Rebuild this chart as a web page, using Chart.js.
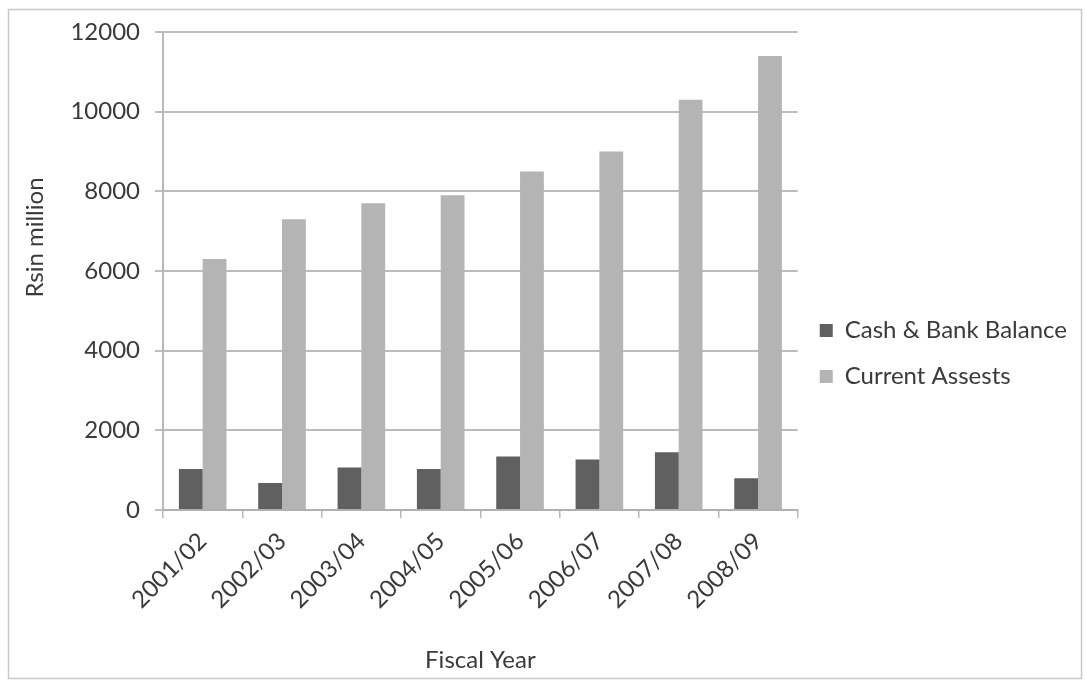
<!DOCTYPE html>
<html>
<head>
<meta charset="utf-8">
<script src="https://cdn.jsdelivr.net/npm/chart.js@4"></script>
<style>
  html, body { margin: 0; padding: 0; background: #ffffff; }
  #wrap { position: relative; width: 1087px; height: 683px; }
</style>
</head>
<body>
<div id="wrap"><canvas id="chart" width="1087" height="683"></canvas></div>
<script>
// Fiscal years on the category axis
const years = ['2001/02', '2002/03', '2003/04', '2004/05', '2005/06', '2006/07', '2007/08', '2008/09'];
// Rs in million
const cashBankBalance = [1030, 680, 1070, 1030, 1340, 1270, 1450, 800];
const currentAssets = [6300, 7300, 7700, 7900, 8500, 9000, 10300, 11400];
// Value axis ticks
const yTicks = [0, 2000, 4000, 6000, 8000, 10000, 12000];
const yTitle = 'Rsin million';

const FONT = 'Lato, "Open Sans", sans-serif';
const TEXT = '#3a3a3a';

// Thin frame round the whole chart
const framePlugin = {
  id: 'frame',
  beforeDraw(chart) {
    const ctx = chart.ctx;
    ctx.save();
    ctx.fillStyle = '#ffffff';
    ctx.fillRect(0, 0, chart.width, chart.height);
    ctx.strokeStyle = '#c8c8c8';
    ctx.lineWidth = 1.5;
    ctx.strokeRect(8.5, 9.5, chart.width - 14, chart.height - 14);
    ctx.restore();
  }
};

// Value axis title, set a little above the middle of the axis
const yTitlePlugin = {
  id: 'yTitle',
  afterDraw(chart) {
    const ctx = chart.ctx;
    const area = chart.chartArea;
    ctx.save();
    ctx.translate(35, area.top + (area.bottom - area.top) * 0.43);
    ctx.rotate(-Math.PI / 2);
    ctx.font = '24px ' + FONT;
    ctx.fillStyle = TEXT;
    ctx.textAlign = 'center';
    ctx.textBaseline = 'middle';
    ctx.fillText(yTitle, 0, 0);
    ctx.restore();
  }
};

new Chart(document.getElementById('chart'), {
  type: 'bar',
  data: {
    labels: years,
    datasets: [
      {
        label: 'Cash & Bank Balance',
        data: cashBankBalance,
        backgroundColor: '#606060',
        categoryPercentage: 0.6,
        barPercentage: 1.0
      },
      {
        label: 'Current Assests',
        data: currentAssets,
        backgroundColor: '#b4b4b4',
        categoryPercentage: 0.6,
        barPercentage: 1.0
      }
    ]
  },
  options: {
    responsive: false,
    animation: false,
    layout: { padding: { top: 32, left: 8, right: 10, bottom: 8 } },
    plugins: {
      tooltip: { enabled: false },
      legend: {
        position: 'right',
        align: 'center',
        maxWidth: 320,
        labels: {
          color: TEXT,
          font: { family: FONT, size: 24 },
          boxWidth: 13,
          boxHeight: 13,
          padding: 22
        }
      }
    },
    scales: {
      x: {
        grid: {
          display: true,
          drawOnChartArea: false,
          offset: true,
          tickLength: 8,
          color: '#b8b8b8',
          lineWidth: 1.5
        },
        border: { display: true, color: '#b0b0b0', width: 2 },
        ticks: {
          color: TEXT,
          font: { family: FONT, size: 24 },
          minRotation: 45,
          maxRotation: 45,
          padding: 9
        },
        title: {
          display: true,
          text: 'Fiscal Year',
          color: TEXT,
          font: { family: FONT, size: 24 },
          padding: { top: 4, bottom: 0 }
        },
        afterFit(scale) { scale.height = 165; }
      },
      y: {
        min: 0,
        max: 12000,
        afterBuildTicks(scale) { scale.ticks = yTicks.map(v => ({ value: v })); },
        grid: {
          color: '#bcbcbc',
          lineWidth: 2,
          tickLength: 8
        },
        border: { display: true, color: '#b8b8b8', width: 2 },
        ticks: {
          color: TEXT,
          font: { family: FONT, size: 24 },
          padding: 15,
          callback: (v) => String(v)
        },
        afterFit(scale) { scale.width = 155; }
      }
    }
  },
  plugins: [framePlugin, yTitlePlugin]
});
</script>
</body>
</html>
